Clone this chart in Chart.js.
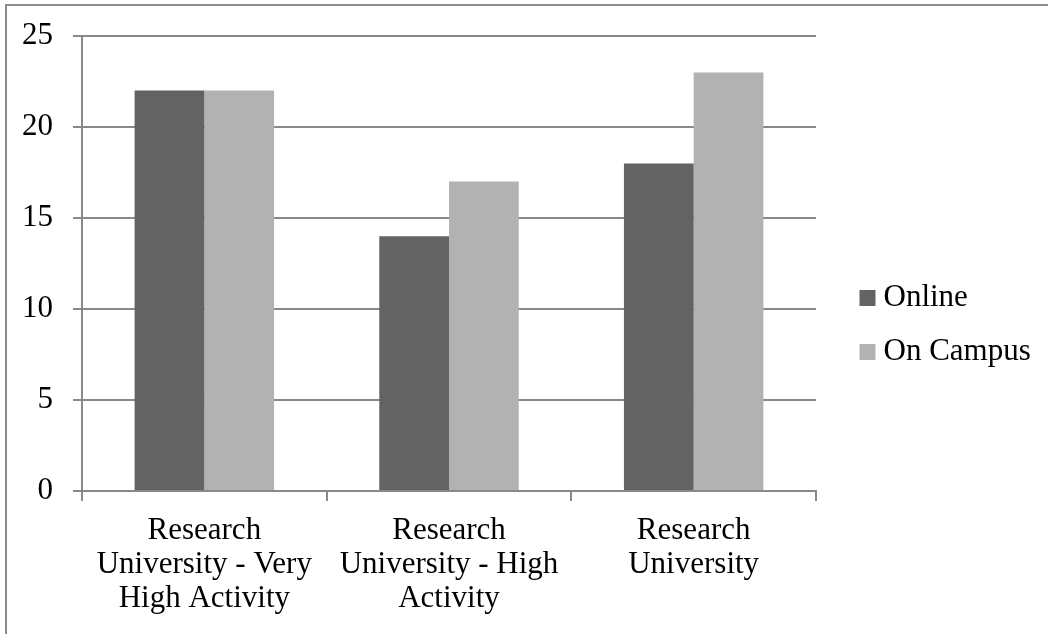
<!DOCTYPE html>
<html lang="en">
<head>
    <meta charset="UTF-8">
    <title>Online vs On Campus</title>
    <script src="https://cdn.jsdelivr.net/npm/chart.js"></script>
    <style>
        * { margin: 0; padding: 0; box-sizing: border-box; }
        body { background: #fff; width: 1048px; height: 634px; overflow: hidden; }
        #chart { display: block; }
    </style>
</head>
<body>
<canvas id="chart" width="1048" height="634"></canvas>
<script>
    // data
    const categories = [
        ['Research', 'University - Very', 'High Activity'],
        ['Research', 'University - High', 'Activity'],
        ['Research', 'University']
    ];
    const seriesNames = ['Online', 'On Campus'];
    const online = [22, 14, 18];
    const onCampus = [22, 17, 23];
    const yTicks = [0, 5, 10, 15, 20, 25];

    const axisGray = '#898989';
    Chart.defaults.font.family = "'Liberation Serif', 'Times New Roman', serif";
    Chart.defaults.font.size = 31;
    Chart.defaults.color = '#000';

    // outer frame (top and left edges only are visible in the reference)
    const framePlugin = {
        id: 'frame',
        beforeDraw(chart) {
            const c = chart.ctx;
            c.save();
            c.strokeStyle = '#8c8c8c';
            c.lineWidth = 2;
            c.beginPath();
            c.moveTo(6, 634);
            c.lineTo(6, 5);
            c.lineTo(1048, 5);
            c.stroke();
            c.restore();
        }
    };

    // keep the legend column a fixed width and nudge it like Excel places it
    const legendPlace = {
        id: 'legendPlace',
        beforeLayout(chart) {
            const lg = chart.legend;
            if (lg && !lg._fixed) {
                const fit = lg.fit.bind(lg);
                lg.fit = function () { fit(); this.width = 232; };
                lg._fixed = true;
            }
        },
        afterLayout(chart) {
            const lg = chart.legend;
            lg.left += 28;
            lg.top -= 10;
            lg.bottom -= 10;
        }
    };

    new Chart(document.getElementById('chart'), {
        type: 'bar',
        data: {
            labels: categories,
            datasets: [
                { label: seriesNames[0], data: online, backgroundColor: '#636363' },
                { label: seriesNames[1], data: onCampus, backgroundColor: '#b2b2b2' }
            ]
        },
        options: {
            responsive: false,
            animation: false,
            devicePixelRatio: 1,
            categoryPercentage: 0.57,
            barPercentage: 1,
            layout: { padding: { top: 36, right: 0, bottom: 0, left: 0 } },
            plugins: {
                tooltip: { enabled: false },
                legend: {
                    position: 'right',
                    labels: {
                        usePointStyle: true,
                        pointStyle: 'rect',
                        boxWidth: 1,
                        boxHeight: 16,
                        padding: 23
                    }
                }
            },
            scales: {
                x: {
                    grid: { drawOnChartArea: false, drawTicks: true, tickLength: 10, color: axisGray, lineWidth: 2 },
                    border: { display: true, color: axisGray, width: 2 },
                    ticks: { maxRotation: 0, autoSkip: false, padding: 13, font: { lineHeight: 1.1 } },
                    afterFit(scale) { scale.height = 143; }
                },
                y: {
                    min: 0,
                    max: 25,
                    afterBuildTicks(scale) { scale.ticks = yTicks.map(v => ({ value: v })); },
                    grid: { color: axisGray, lineWidth: 2, tickLength: 9 },
                    border: { display: true, color: axisGray, width: 2 },
                    ticks: { padding: 20 },
                    afterFit(scale) {
                        scale.width = 82;
                        scale.paddingTop = 0;
                    }
                }
            }
        },
        plugins: [framePlugin, legendPlace]
    });
</script>
</body>
</html>
